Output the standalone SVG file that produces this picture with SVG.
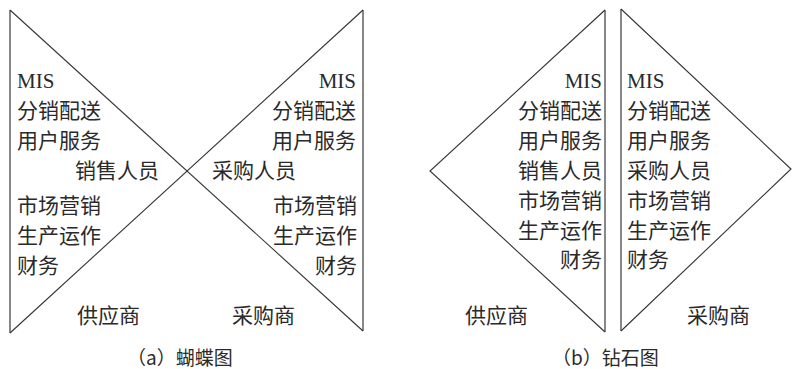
<svg xmlns="http://www.w3.org/2000/svg" width="792" height="369" viewBox="0 0 792 369">
<style>
.ln{fill:none;stroke:#333;stroke-width:1.1}
.vl{fill:none;stroke:#555;stroke-width:1.4}
text{font-family:"Noto Sans CJK SC",sans-serif;font-size:21px;fill:#2a2a2a}
text.lat{font-family:"Liberation Serif","Times New Roman","DejaVu Serif",serif;font-size:21px}
tspan.lat{font-family:"Liberation Serif","Times New Roman","DejaVu Serif",serif}
.cap{font-size:19px}
.e{text-anchor:end}
</style>
<rect width="792" height="369" fill="#fff"/>
<g id="connectors">
<line class="vl" x1="10" y1="10" x2="10" y2="333"/>
<line class="vl" x1="363" y1="10" x2="363" y2="331"/>
<line class="ln" x1="10" y1="10" x2="363" y2="331"/>
<line class="ln" x1="10" y1="333" x2="363" y2="10"/>
<line class="vl" x1="605" y1="10" x2="605" y2="332"/>
<polyline class="ln" points="605,10 430,171 605,332"/>
<line class="vl" x1="621" y1="9" x2="621" y2="331"/>
<polyline class="ln" points="621,9 791,169 621,331"/>
</g>
<g id="bowtie-left">
<text class="lat" x="17" y="88" font-family="Liberation Serif, serif">MIS</text>
<text x="17" y="118">分销配送</text>
<text x="17" y="148">用户服务</text>
<text x="75" y="178">销售人员</text>
<text x="17" y="213">市场营销</text>
<text x="17" y="243">生产运作</text>
<text x="17" y="273">财务</text>
<text x="77" y="323">供应商</text>
</g>
<g id="bowtie-right">
<text class="lat e" x="356" y="88" font-family="Liberation Serif, serif">MIS</text>
<text class="e" x="356" y="118">分销配送</text>
<text class="e" x="356" y="148">用户服务</text>
<text x="212" y="178">采购人员</text>
<text class="e" x="357" y="213">市场营销</text>
<text class="e" x="357" y="243">生产运作</text>
<text class="e" x="357" y="273">财务</text>
<text x="232" y="323">采购商</text>
</g>
<g id="diamond-left">
<text class="lat e" x="602" y="88" font-family="Liberation Serif, serif">MIS</text>
<text class="e" x="602" y="118">分销配送</text>
<text class="e" x="602" y="148">用户服务</text>
<text class="e" x="602" y="178">销售人员</text>
<text class="e" x="602" y="208">市场营销</text>
<text class="e" x="602" y="238">生产运作</text>
<text class="e" x="602" y="267">财务</text>
<text x="465" y="323">供应商</text>
</g>
<g id="diamond-right">
<text class="lat" x="627" y="88" font-family="Liberation Serif, serif">MIS</text>
<text x="627" y="118">分销配送</text>
<text x="627" y="148">用户服务</text>
<text x="627" y="178">采购人员</text>
<text x="627" y="208">市场营销</text>
<text x="627" y="238">生产运作</text>
<text x="627" y="267">财务</text>
<text x="687" y="323">采购商</text>
</g>
<g id="captions">
<text class="cap" x="127" y="365">（a）蝴蝶图</text>
<text class="cap" x="552" y="365">（b）钻石图</text>
</g>
</svg>
